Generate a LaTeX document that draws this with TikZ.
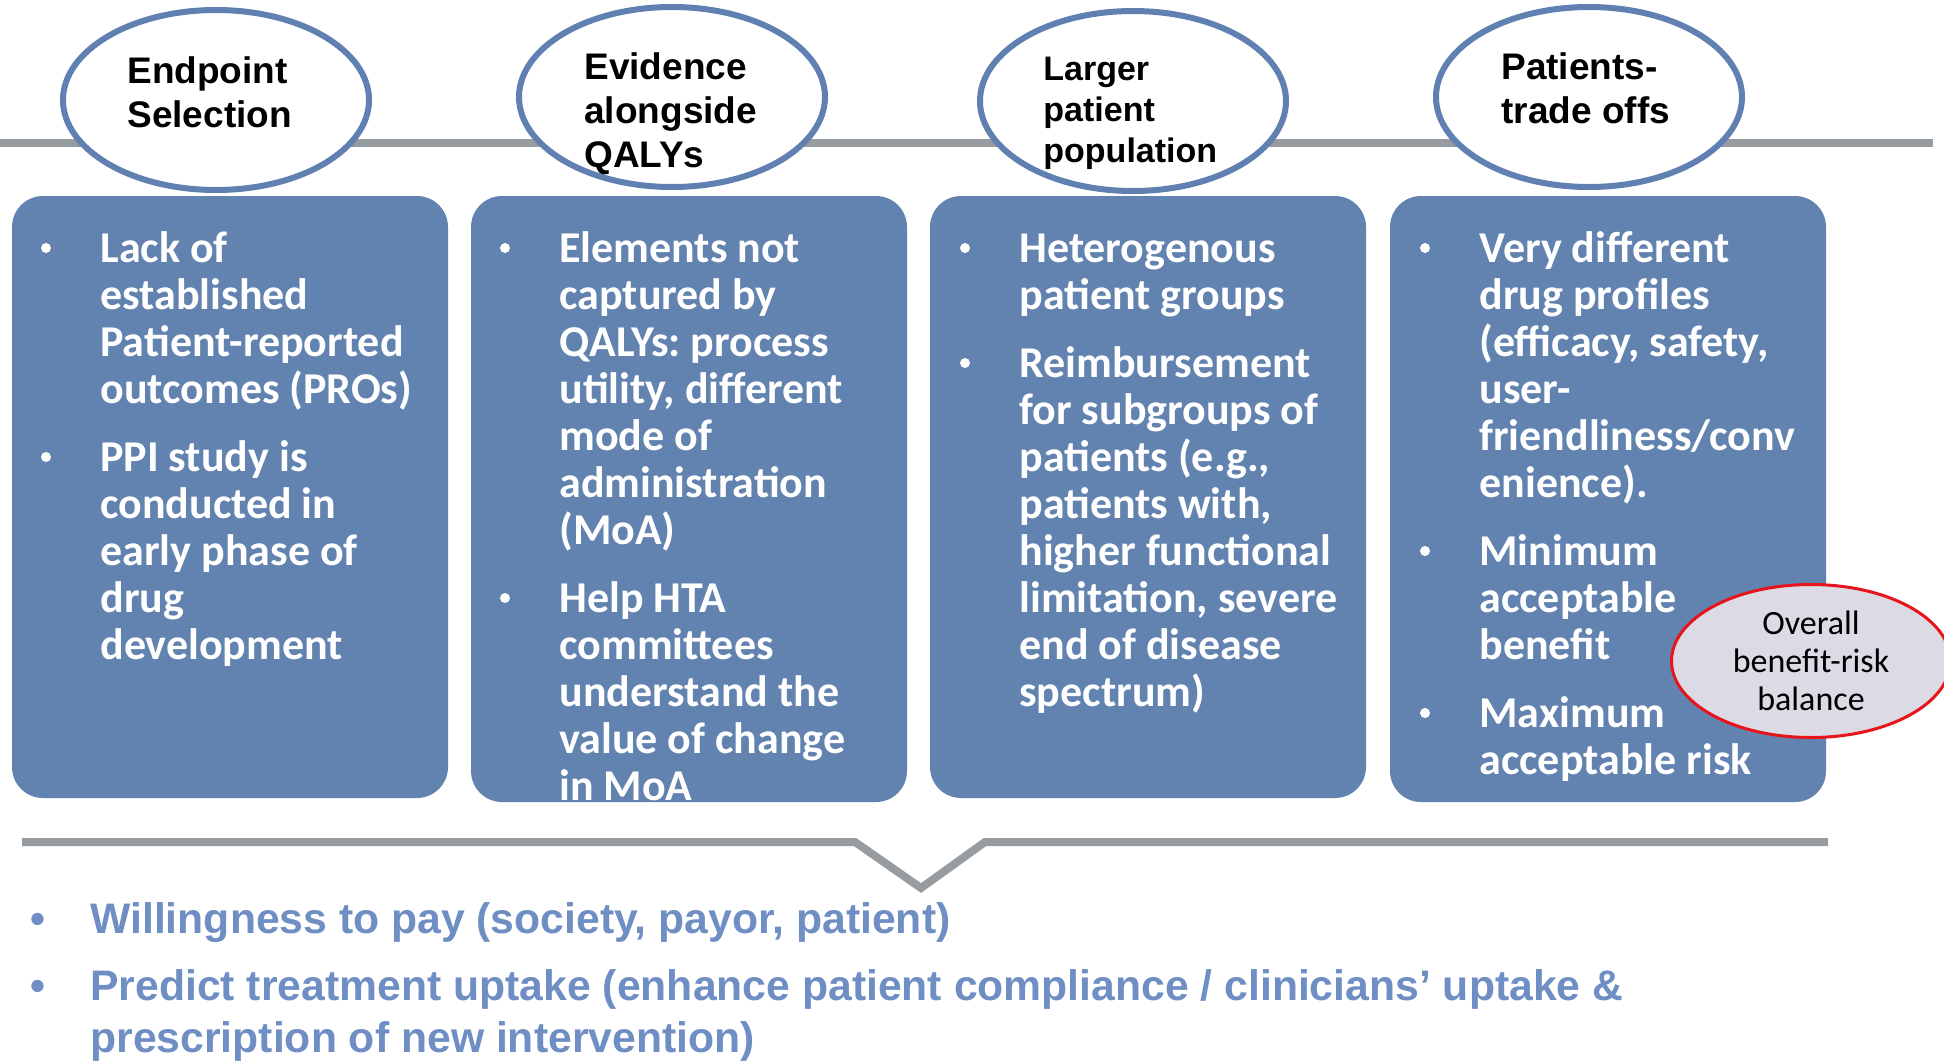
\documentclass[tikz,border=0pt]{standalone}
\usepackage{fontspec}
\setmainfont{Carlito}
\newfontfamily\headfont{Liberation Sans}
\usetikzlibrary{shapes.geometric}
\frenchspacing

\definecolor{boxblue}{HTML}{6283B0}
\definecolor{rimblue}{HTML}{5F80B0}
\definecolor{railgray}{HTML}{969C9F}
\definecolor{notetext}{HTML}{6E8EC4}
\definecolor{balancefill}{HTML}{DCDAE4}
\definecolor{balancered}{HTML}{E8141C}

% Multi-line text nodes are placed by the baseline of their last line.
\tikzset{
  rail/.style={draw=railgray, line width=4pt, line join=miter},
  topic/.style={ellipse, draw=rimblue, line width=3pt, fill=white,
    minimum width=153pt, minimum height=90pt, inner sep=0pt},
  topictext/.style={anchor=base west, inner sep=0pt, align=left, text=black,
    font=\headfont\bfseries\fontsize{18.5pt}{22pt}\selectfont},
  panel/.style={rectangle, rounded corners=15.5pt, fill=boxblue,
    minimum width=218pt, inner sep=0pt},
  itemtext/.style={anchor=base west, inner sep=0pt, align=left, text=white,
    font=\bfseries\fontsize{22pt}{23.5pt}\selectfont},
  dot/.style={circle, fill=white, minimum size=5pt, inner sep=0pt},
  balance/.style={ellipse, draw=balancered, line width=1.5pt, fill=balancefill,
    minimum width=139.5pt, minimum height=76.5pt, inner sep=0pt},
  balancetext/.style={inner sep=0pt, align=center, text=black,
    font=\fontsize{17pt}{19pt}\selectfont},
  notetxt/.style={anchor=base west, inner sep=0pt, align=left, text=notetext,
    font=\headfont\bfseries\fontsize{21.35pt}{26pt}\selectfont},
}

\begin{document}
\begin{tikzpicture}[x=0.5pt,y=-0.5pt]
\useasboundingbox (0,0) rectangle (1944,1061);
\clip (0,0) rectangle (1944,1061);
\fill[white] (0,0) rectangle (1944,1061);

% upper rail behind the topic ellipses
\draw[rail] (0,143) -- (1933,143);

% topic ellipses
\node[topic] (e1) at (216,100) {};
\node[topic] (e2) at (672,97) {};
\node[topic] (e3) at (1133,101) {};
\node[topic] (e4) at (1589,97) {};

\node[topictext] (t1) at (127,127) {Endpoint\\Selection};
\node[topictext] (t2) at (584,167) {Evidence\\alongside\\QALYs};
\node[topictext, font=\headfont\bfseries\fontsize{17pt}{20.5pt}\selectfont]
  (t3) at (1043,162) {Larger\\patient\\population};
\node[topictext] (t4) at (1501,123) {Patients-\\trade offs};

% blue panels
\node[panel, minimum height=301pt] (p1) at (230,497) {};
\node[panel, minimum height=303pt] (p2) at (689,499) {};
\node[panel, minimum height=301pt] (p3) at (1148,497) {};
\node[panel, minimum height=303pt] (p4) at (1608,499) {};

% panel 1
\node[dot] (b11) at (46,248) {};
\node[itemtext] (i11) at (100,403) {Lack of\\established\\Patient-reported\\outcomes (PROs)};
\node[dot] (b12) at (46,457) {};
\node[itemtext] (i12) at (100,659) {PPI study is\\conducted in\\early phase of\\drug\\development};

% panel 2
\node[dot] (b21) at (505,248) {};
\node[itemtext] (i21) at (559,544) {Elements not\\captured by\\QALYs: process\\utility, different\\mode of\\administration\\(MoA)};
\node[dot] (b22) at (505,598) {};
\node[itemtext] (i22) at (559,800) {Help HTA\\committees\\understand the\\value of change\\in MoA};

% panel 3
\node[dot] (b31) at (965,248) {};
\node[itemtext] (i31) at (1019,309) {Heterogenous\\patient groups};
\node[dot] (b32) at (965,363) {};
\node[itemtext] (i32) at (1019,706) {Reimbursement\\for subgroups of\\patients (e.g.,\\patients with,\\higher functional\\limitation, severe\\end of disease\\spectrum)};

% panel 4
\node[dot] (b41) at (1425,248) {};
\node[itemtext] (i41) at (1479,497) {Very different\\drug profiles\\(efficacy, safety,\\user-\\friendliness/conv\\enience).};
\node[dot] (b42) at (1425,551) {};
\node[itemtext] (i42) at (1479,659) {Minimum\\acceptable\\benefit};
\node[dot] (b43) at (1425,713) {};
\node[itemtext] (i43) at (1479,774) {Maximum\\acceptable risk};

% benefit-risk balance
\node[balance] (bal) at (1811,661) {};
\node[balancetext] (balt) at (1811,661) {Overall\\benefit-risk\\balance};

% lower rail with notch
\draw[rail] (22,842) -- (855,842) -- (921,888) -- (985,842) -- (1828,842);

% conclusions
\node[notetxt] (nb1) at (30,933) {•};
\node[notetxt] (n1) at (90,933) {Willingness to pay (society, payor, patient)};
\node[notetxt] (nb2) at (30,1000) {•};
\node[notetxt] (n2) at (90,1052) {Predict treatment uptake (enhance patient compliance / clinicians’ uptake \&\\prescription of new intervention)};
\end{tikzpicture}
\end{document}
